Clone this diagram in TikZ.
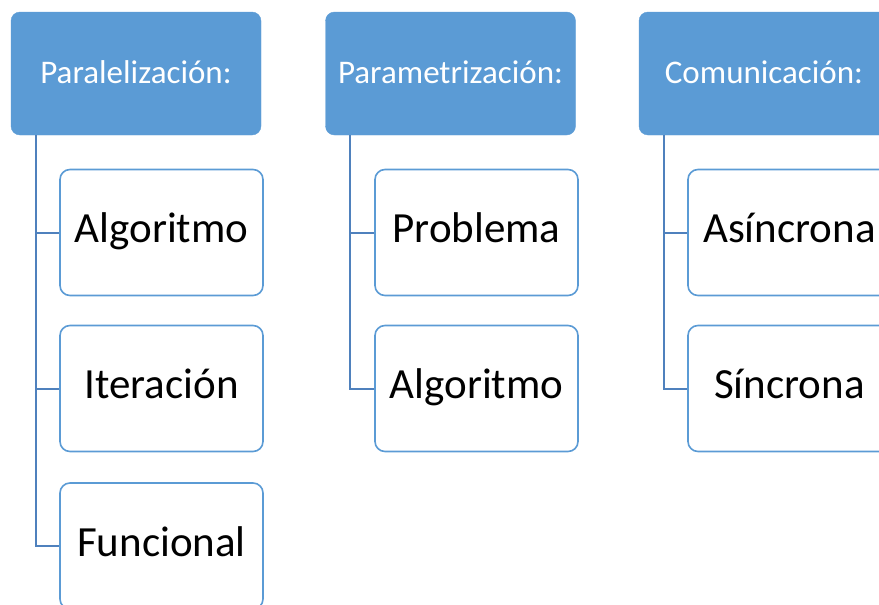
\documentclass[tikz,border=0pt]{standalone}
\usepackage{fontspec}
\setmainfont{Carlito}
\usetikzlibrary{calc}
\definecolor{hdrblue}{HTML}{5B9BD5}
\definecolor{linblue}{HTML}{4F81BD}
\begin{document}
\begin{tikzpicture}[x=1pt,y=-1pt,
    head/.style={draw=hdrblue,fill=hdrblue,rounded corners=9pt,minimum width=250pt,minimum height=123pt,
      inner sep=0pt,text=white,text height=25pt,text depth=6pt,font=\fontsize{33}{38}\selectfont},
    item/.style={draw=hdrblue,line width=1.6pt,fill=white,rounded corners=10pt,minimum width=203pt,minimum height=126pt,
      inner sep=0pt,text height=29pt,text depth=9pt,font=\fontsize{43}{50}\selectfont},
    conn/.style={draw=linblue,line width=2pt}]
    \useasboundingbox (0,0) rectangle (879,605);
    \clip (0,0) rectangle (879,605);

    % headers
    \node[head] (par) at (136,73.5) {Paralelización:};
    \node[head] (prm) at (450.5,73.5) {Parametrización:};
    \node[head] (com) at (764,73.5) {Comunicación:};

    % children
    \node[item] (par1) at (161.5,232.5) {Algoritmo};
    \node[item] (par2) at (161.5,388.5) {Iteración};
    \node[item] (par3) at (161.5,546) {Funcional};
    \node[item] (prm1) at (476.5,232.5) {Problema};
    \node[item] (prm2) at (476.5,388.5) {Algoritmo};
    \node[item] (com1) at (789.5,232.5) {Asíncrona};
    \node[item] (com2) at (789.5,388.5) {Síncrona};

    % connectors
    \foreach \h/\c in {par/par1, par/par2, par/par3, prm/prm1, prm/prm2, com/com1, com/com2}
        \draw[conn] ($(\h.south west)+(25,0)$) |- (\c.west);
\end{tikzpicture}
\end{document}
